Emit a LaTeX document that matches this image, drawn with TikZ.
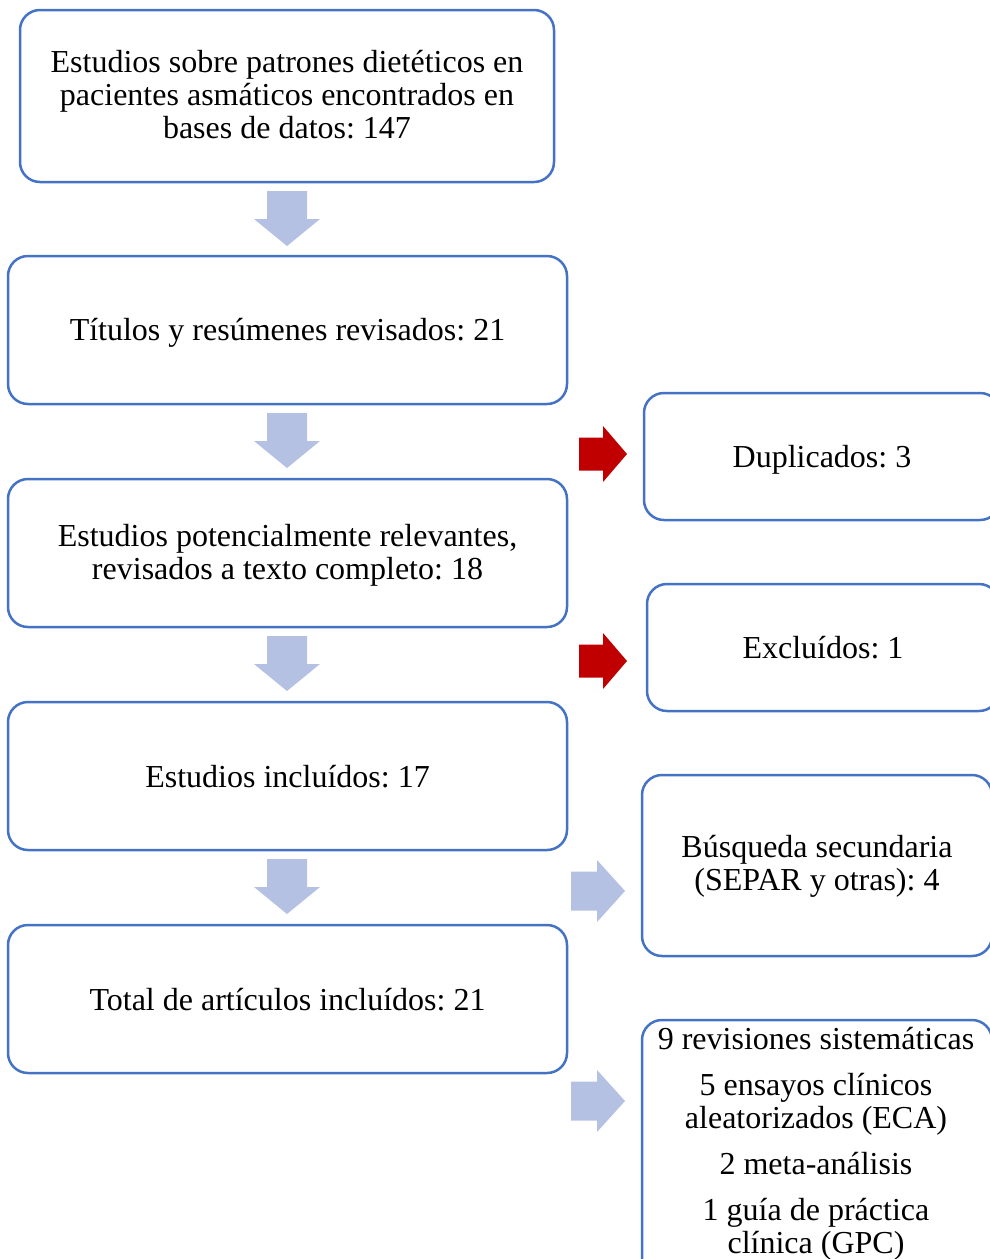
\documentclass[tikz,border=0pt]{standalone}
\usepackage{fontspec}
\setmainfont{Liberation Serif}
\frenchspacing
\definecolor{bord}{HTML}{4472C4}
\definecolor{lblue}{HTML}{B4C1E3}
\definecolor{dred}{HTML}{C00000}
\begin{document}
\begin{tikzpicture}[x=1pt,y=-1pt,
  box/.style={draw=bord, line width=2.5pt, rounded corners=20pt, fill=white, inner sep=0pt},
  txt/.style={align=center, font=\fontsize{32}{33}\selectfont\frenchspacing, inner sep=0pt},
  downarr/.pic={\fill[lblue] (-20,0) -- (20,0) -- (20,28) -- (33,28) -- (0,55) -- (-33,28) -- (-20,28) -- cycle;},
  redarr/.pic={\fill[dred] (0,-16.5) -- (24,-16.5) -- (24,-28) -- (48,0) -- (24,28) -- (24,16.5) -- (0,16.5) -- cycle;},
  bluearr/.pic={\fill[lblue] (0,-19.5) -- (26,-19.5) -- (26,-31) -- (54,0) -- (26,31) -- (26,19.5) -- (0,19.5) -- cycle;}
]
\useasboundingbox (0,0) rectangle (989,1259);
% left column
\node[box, minimum width=534pt, minimum height=172pt] (b1) at (287,96) {};
\node[txt] (t1) at ([yshift=1pt]b1.center) {Estudios sobre patrones dietéticos en\\pacientes asmáticos encontrados en\\bases de datos: 147};
\node[box, minimum width=559pt, minimum height=148pt] (b2) at (287.5,330) {};
\node[txt] (t2) at ([yshift=-3pt]b2.center) {Títulos y resúmenes revisados: 21};
\node[box, minimum width=559pt, minimum height=148pt] (b3) at (287.5,553) {};
\node[txt] (t3) at ([yshift=-2pt]b3.center) {Estudios potencialmente relevantes,\\revisados a texto completo: 18};
\node[box, minimum width=559pt, minimum height=148pt] (b4) at (287.5,776) {};
\node[txt] (t4) at ([yshift=-1pt]b4.center) {Estudios incluídos: 17};
\node[box, minimum width=559pt, minimum height=148pt] (b5) at (287.5,999) {};
\node[txt] (t5) at ([yshift=-1pt]b5.center) {Total de artículos incluídos: 21};
% right column
\node[box, minimum width=356pt, minimum height=127pt] (r1) at (822,456.5) {};
\node[txt] (s1) at ([yshift=-3pt]r1.center) {Duplicados: 3};
\node[box, minimum width=352pt, minimum height=127pt] (r2) at (823,647.5) {};
\node[txt] (s2) at (r2.center) {Excluídos: 1};
\node[box, minimum width=350pt, minimum height=181pt] (r3) at (817,865.5) {};
\node[txt] (s3) at ([yshift=-1pt]r3.center) {Búsqueda secundaria\\(SEPAR y otras): 4};
\node[box, minimum width=350pt, minimum height=300pt] (r4) at (817,1170) {};
\node[txt, anchor=north] (s4) at (816,1027) {9 revisiones sistemáticas\\[13pt]5 ensayos clínicos\\aleatorizados (ECA)\\[13pt]2 meta-análisis\\[13pt]1 guía de práctica\\clínica (GPC)};
% arrows
\pic at (287,191) {downarr};
\pic at (287,413) {downarr};
\pic at (287,636) {downarr};
\pic at (287,859) {downarr};
\pic at (579,454) {redarr};
\pic at (579,661) {redarr};
\pic at (571,891) {bluearr};
\pic at (571,1101) {bluearr};
\end{tikzpicture}
\end{document}
